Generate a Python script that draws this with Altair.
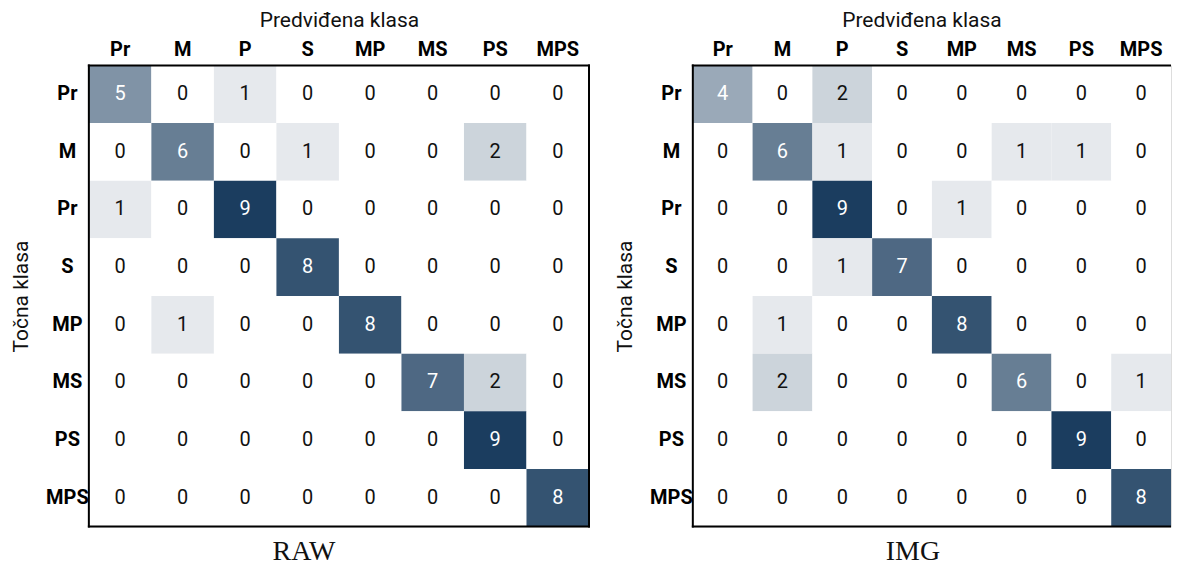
import altair as alt
import pandas as pd

col_labels = ["Pr", "M", "P", "S", "MP", "MS", "PS", "MPS"]
row_labels = ["Pr", "M", "Pr", "S", "MP", "MS", "PS", "MPS"]

raw_values = [
    [5, 0, 1, 0, 0, 0, 0, 0],
    [0, 6, 0, 1, 0, 0, 2, 0],
    [1, 0, 9, 0, 0, 0, 0, 0],
    [0, 0, 0, 8, 0, 0, 0, 0],
    [0, 1, 0, 0, 8, 0, 0, 0],
    [0, 0, 0, 0, 0, 7, 2, 0],
    [0, 0, 0, 0, 0, 0, 9, 0],
    [0, 0, 0, 0, 0, 0, 0, 8],
]
img_values = [
    [4, 0, 2, 0, 0, 0, 0, 0],
    [0, 6, 1, 0, 0, 1, 1, 0],
    [0, 0, 9, 0, 1, 0, 0, 0],
    [0, 0, 1, 7, 0, 0, 0, 0],
    [0, 1, 0, 0, 8, 0, 0, 0],
    [0, 2, 0, 0, 0, 6, 0, 1],
    [0, 0, 0, 0, 0, 0, 9, 0],
    [0, 0, 0, 0, 0, 0, 0, 8],
]
panel_titles = ["RAW", "IMG"]

LABEL_FONT = "Roboto"
H = 462


def js_arr(lst):
    return "[" + ",".join("'" + s + "'" for s in lst) + "]"


def matrix(values, title, W, title_dx, right_border=True, x_title_x=None):
    rows = []
    for r, row in enumerate(values):
        for c, v in enumerate(row):
            rows.append({"r": r, "c": c, "v": v})
    df = pd.DataFrame(rows)

    xaxis = dict(
        orient="top", labelExpr=js_arr(col_labels) + "[datum.value]",
        title="Predviđena klasa", domain=False, ticks=False, labelAngle=0,
        labelFont=LABEL_FONT, labelFontWeight="bold", labelFontSize=20, labelColor="#000",
        labelPadding=6, titleFont=LABEL_FONT, titleFontWeight="normal",
        titleFontSize=21, titleColor="#111", titlePadding=9, grid=False,
    )
    if x_title_x is not None:
        xaxis["titleX"] = x_title_x
    x = alt.X("c:O", scale=alt.Scale(domain=list(range(8)), paddingInner=0, paddingOuter=0),
              axis=alt.Axis(**xaxis))
    y = alt.Y("r:O", scale=alt.Scale(domain=list(range(8)), paddingInner=0, paddingOuter=0),
              axis=alt.Axis(orient="left", labelExpr=js_arr(row_labels) + "[datum.value]",
                            title="Točna klasa", domain=False, ticks=False,
                            labelFont=LABEL_FONT, labelFontWeight="bold", labelFontSize=20,
                            labelColor="#000", labelPadding=22, labelAlign="center",
                            titleFont=LABEL_FONT, titleFontWeight="normal", titleFontSize=21,
                            titleColor="#111", titlePadding=14, grid=False))
    base = alt.Chart(df)
    rect = base.mark_rect().encode(
        x=x, y=y,
        color=alt.Color("v:Q", scale=alt.Scale(domain=[0, 9], range=["#ffffff", "#1b3d5f"],
                                               interpolate="rgb"),
                        legend=None),
    )
    text = base.mark_text(font=LABEL_FONT, fontSize=20).encode(
        x=x, y=y, text="v:Q",
        color=alt.condition(alt.datum.v >= 4, alt.value("white"), alt.value("#111")),
    )
    one = pd.DataFrame({"a": [0]})
    b = alt.Chart(one).mark_rule(color="black", strokeWidth=2)
    ext = 1 if right_border else 0
    top = b.encode(x=alt.value(-1), x2=alt.value(W + ext), y=alt.value(0))
    bottom = b.encode(x=alt.value(-1), x2=alt.value(W + ext), y=alt.value(H))
    left = b.encode(x=alt.value(0), y=alt.value(-1), y2=alt.value(H + 1))
    layers = [rect, text, top, bottom, left]
    if right_border:
        layers.append(b.encode(x=alt.value(W), y=alt.value(-1), y2=alt.value(H + 1)))
    return alt.layer(*layers).properties(
        width=W, height=H,
        title=alt.TitleParams(title, orient="bottom", font="Liberation Serif", fontSize=28,
                              fontWeight="normal", color="#111", anchor="middle",
                              frame="group", dx=title_dx, offset=31, baseline="alphabetic"),
    )


left_chart = matrix(raw_values, panel_titles[0], 501, -35)
right_chart = matrix(img_values, panel_titles[1], 479, -19, right_border=False, x_title_x=229)

chart = alt.hconcat(left_chart, right_chart, spacing=22).properties(
    padding={"left": 2, "top": 0, "right": 0, "bottom": 0}
).configure_view(stroke=None).configure(background="white")

chart.save("out.html", embed_options={"renderer": "svg", "actions": False})
